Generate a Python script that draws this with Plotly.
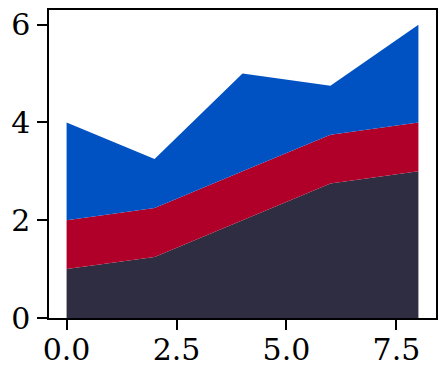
import plotly.graph_objects as go

x = [0, 2, 4, 6, 8]
series_a = [1, 1.25, 2, 2.75, 3]
series_b = [1, 1, 1, 1, 1]
series_c = [2, 1, 2, 1, 2]
colors = ["#2e2d42", "#b0002a", "#0052c2"]
x_ticks = [0, 2.5, 5, 7.5]
x_tick_text = ["0.0", "2.5", "5.0", "7.5"]
y_ticks = [0, 2, 4, 6]

fig = go.Figure()
for name, vals, c in zip(["a", "b", "c"], [series_a, series_b, series_c], colors):
    fig.add_trace(go.Scatter(x=x, y=vals, stackgroup="one", mode="lines",
                             line=dict(width=0, color=c), fillcolor=c, name=name,
                             showlegend=False))

axis_common = dict(showline=True, mirror=True, linecolor="black", linewidth=1.5,
                   ticks="outside", ticklen=10, tickwidth=1.5, tickcolor="black",
                   showgrid=False, zeroline=False, automargin=False,
                   ticklabeloverflow="allow")
# page body has an 8px margin, so the figure is sized to fit the window
fig.update_layout(
    width=438, height=370,
    margin=dict(l=41, r=10, t=2, b=60),
    paper_bgcolor="white", plot_bgcolor="white",
    font=dict(family="DejaVu Serif", size=30, color="black"),
    xaxis=dict(range=[-0.4, 8.4], tickvals=x_ticks, ticktext=x_tick_text,
               ticklabelstandoff=-6, **axis_common),
    yaxis=dict(range=[0, 6.3], tickvals=y_ticks, ticklabelstandoff=1, **axis_common),
)
fig.write_html("out.html")
